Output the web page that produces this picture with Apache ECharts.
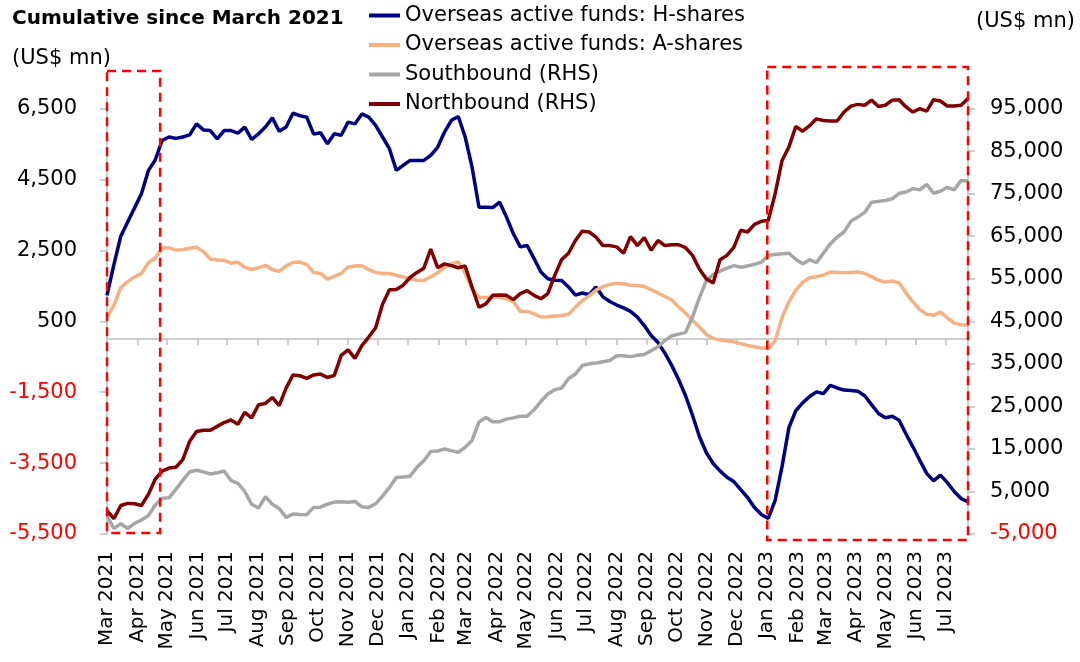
<!DOCTYPE html>
<html><head><meta charset="utf-8">
<script src="https://cdn.jsdelivr.net/npm/echarts@6/dist/echarts.min.js"></script>
<style>html,body{margin:0;padding:0;background:#fff}#c{width:1080px;height:662px}</style>
</head><body><div id="c"></div>
<script>
// ---- data (weekly, cumulative since March 2021) ----
const startDate = [2021, 2, 1]; // first weekly observation (Mon 1 Mar 2021)
const seriesNames = ['Overseas active funds: H-shares', 'Overseas active funds: A-shares', 'Southbound (RHS)', 'Northbound (RHS)'];
const hShares = [
 1230,2100,2900,3300,3700,4100,4750,5050,5600,5700,
 5660,5700,5760,6070,5900,5880,5650,5880,5880,5810,
 5980,5630,5790,5980,6240,5860,5980,6370,6300,6260,
 5780,5820,5510,5790,5750,6120,6070,6350,6260,6030,
 5700,5370,4760,4900,5040,5040,5040,5180,5410,5840,
 6170,6280,5700,4850,3720,3720,3710,3860,3440,2970,
 2600,2640,2270,1890,1700,1660,1650,1470,1240,1300,
 1250,1470,1190,1060,960,880,780,620,380,100,
 -100,-400,-750,-1150,-1600,-2150,-2750,-3200,-3510,-3720,
 -3900,-4020,-4250,-4470,-4750,-4950,-5060,-4550,-3600,-2500,
 -2020,-1800,-1620,-1490,-1540,-1310,-1380,-1440,-1450,-1470,
 -1600,-1850,-2100,-2220,-2180,-2290,-2680,-3040,-3420,-3790,
 -4000,-3840,-4050,-4300,-4500,-4590];
const aShares = [
 620,950,1450,1620,1750,1850,2150,2280,2570,2570,
 2510,2520,2560,2590,2460,2260,2230,2220,2140,2170,
 2020,1960,2010,2080,1960,1910,2060,2160,2170,2100,
 1880,1850,1690,1770,1850,2030,2060,2070,1960,1880,
 1850,1850,1800,1750,1700,1660,1650,1760,1870,2020,
 2120,2180,1850,1420,1180,1170,1190,1170,1140,1050,
 780,780,710,620,630,650,660,700,900,1080,
 1220,1380,1480,1540,1570,1560,1520,1510,1480,1390,
 1300,1200,1100,900,730,530,340,130,20,-30,
 -50,-80,-130,-180,-220,-250,-270,-50,600,1050,
 1380,1600,1730,1760,1800,1890,1880,1870,1880,1890,
 1850,1760,1660,1610,1640,1580,1300,1050,830,700,
 670,760,600,450,400,390];
const southbound = [
 -700,-3700,-2600,-3700,-2500,-1700,-700,1800,3400,3500,
 5500,7600,9600,10000,9600,9100,9400,9800,7600,6900,
 5000,2000,1100,3800,2000,1000,-1100,-300,-400,-450,
 1250,1300,2000,2500,2600,2450,2650,1400,1250,2100,
 3900,5900,8300,8400,8600,10700,12200,14400,14500,15000,
 14600,14200,15400,17000,21300,22400,21400,21400,22000,22300,
 22700,22700,24200,26200,27900,28900,29300,31500,32600,34600,
 35000,35200,35500,35800,36900,36900,36700,37000,37200,38100,
 39000,40500,41600,42000,42400,46000,50500,54500,56000,56800,
 57500,58100,57700,58000,58400,58900,60500,60700,60900,61000,
 59600,58500,59500,58800,61000,63200,64800,66000,68500,69500,
 70600,73000,73200,73400,73800,75100,75400,76200,75900,77200,
 75100,75600,76500,75900,78100,78000];
const northbound = [
 500,-1400,1700,2200,2100,1700,4300,7900,9800,10500,
 10700,12500,16800,19100,19400,19400,20300,21200,21800,20800,
 23600,22300,25400,25700,27100,25200,29300,32400,32200,31600,
 32400,32600,31800,32300,37000,38300,36300,39300,41300,43500,
 49000,52400,52500,53500,55300,56500,57500,62000,57600,58500,
 58100,57600,58000,53000,48300,49100,51100,51200,51100,50100,
 51500,52200,51100,50300,51500,55800,59500,61000,64000,66200,
 66000,64800,62800,62800,62500,61000,64900,62800,64700,61700,
 64000,62800,63000,63000,62300,60500,57300,55000,54000,59500,
 60500,62400,66400,66000,67800,68500,68700,75000,82800,86000,
 90800,89700,91000,92600,92200,92100,92100,94200,95600,96000,
 95800,97000,95500,95800,97000,97100,95400,94200,95000,94400,
 97100,96800,95600,95600,95800,97400];
const leftTicks = [-5500,-3500,-1500,500,2500,4500,6500];
const rightTicks = [-5000,5000,15000,25000,35000,45000,55000,65000,75000,85000,95000];
const monthTicks = [
 '2021-03-01','2021-04-01','2021-05-01','2021-06-01','2021-07-01','2021-08-01','2021-09-01','2021-10-01','2021-11-01','2021-12-01',
 '2022-01-01','2022-02-01','2022-03-01','2022-04-01','2022-05-01','2022-06-01','2022-07-01','2022-08-01','2022-09-01','2022-10-01','2022-11-01','2022-12-01',
 '2023-01-01','2023-02-01','2023-03-01','2023-04-01','2023-05-01','2023-06-01','2023-07-01'];
const monthNames = ['Jan','Feb','Mar','Apr','May','Jun','Jul','Aug','Sep','Oct','Nov','Dec'];
const highlightPeriods = [['2021-03-01','2021-04-24'], ['2023-01-01','2023-07-24']];

// ---- build ----
const FONT = 'DejaVu Sans';
const ts = s => { const p = s.split('-').map(Number); return new Date(p[0], p[1] - 1, p[2]).getTime(); };
const dates = hShares.map((_, i) => new Date(startDate[0], startDate[1], startDate[2] + 7 * i).getTime());
const pair = arr => arr.map((v, i) => [dates[i], v]);
const monthTs = monthTicks.map(ts);
const axisGray = '#BFBFBF';
const fmtNum = v => Number(v).toLocaleString('en-US');
const fmtMonth = v => { const d = new Date(v); return monthNames[d.getMonth()] + ' ' + d.getFullYear(); };
const colors = ['#000080', '#F4B183', '#A6A6A6', '#800000'];

const chart = echarts.init(document.getElementById('c'), null, {renderer: 'canvas'});
const option = {
  animation: false,
  textStyle: {fontFamily: FONT},
  color: colors,
  grid: {left: 107, right: 112, top: 98, bottom: 128},
  legend: {
    orient: 'vertical', left: 364, top: 0, icon: 'rect', itemWidth: 31, itemHeight: 4, itemGap: 8.5,
    textStyle: {fontSize: 21, color: '#000', fontFamily: FONT, lineHeight: 21},
    data: seriesNames
  },
  xAxis: [
    {
      type: 'value', min: dates[0], max: dates[dates.length - 1], position: 'bottom', scale: true,
      axisLine: {show: false, onZero: false}, axisTick: {show: false}, splitLine: {show: false},
      axisLabel: {customValues: monthTs, rotate: 90, margin: 17, fontSize: 20, color: '#000', fontFamily: FONT, formatter: fmtMonth}
    },
    {
      type: 'value', min: dates[0], max: dates[dates.length - 1], position: 'top', scale: true,
      axisLine: {show: true, onZero: true, onZeroAxisIndex: 0, lineStyle: {color: axisGray, width: 1.5}},
      axisTick: {show: true, inside: true, length: 6, customValues: monthTs, lineStyle: {color: axisGray, width: 1.5}},
      axisLabel: {show: false}, splitLine: {show: false}
    }
  ],
  yAxis: [
    {
      type: 'value', min: -5500, max: 6800, position: 'left',
      axisLine: {show: true, onZero: false, lineStyle: {color: axisGray, width: 1.5}},
      axisTick: {show: true, length: 7, customValues: leftTicks, lineStyle: {color: axisGray, width: 1.5}},
      axisLabel: {customValues: leftTicks, margin: 30, fontSize: 21, fontFamily: FONT,
        color: v => (v < 0 ? '#FF0000' : '#000000'), formatter: fmtNum},
      splitLine: {show: false}
    },
    {
      type: 'value', min: -5000, max: 97500, position: 'right',
      axisLine: {show: true, onZero: false, lineStyle: {color: axisGray, width: 1.5}},
      axisTick: {show: true, length: 7, customValues: rightTicks, lineStyle: {color: axisGray, width: 1.5}},
      axisLabel: {customValues: rightTicks, margin: 22, fontSize: 21, fontFamily: FONT,
        color: v => (v < 0 ? '#FF0000' : '#000000'), formatter: fmtNum},
      splitLine: {show: false}
    }
  ],
  series: [
    {name: seriesNames[0], type: 'line', xAxisIndex: 0, yAxisIndex: 0, data: pair(hShares)},
    {name: seriesNames[1], type: 'line', xAxisIndex: 0, yAxisIndex: 0, data: pair(aShares)},
    {name: seriesNames[2], type: 'line', xAxisIndex: 0, yAxisIndex: 1, data: pair(southbound)},
    {name: seriesNames[3], type: 'line', xAxisIndex: 0, yAxisIndex: 1, data: pair(northbound)}
  ].map((s, i) => Object.assign(s, {symbol: 'none', showSymbol: false, lineStyle: {width: 3.5, color: colors[i]}, itemStyle: {color: colors[i]}})),
  graphic: [
    {type: 'text', x: 12, y: 19, style: {text: 'Cumulative since March 2021', font: 'bold 20px "' + FONT + '"', fill: '#000', verticalAlign: 'middle'}},
    {type: 'text', x: 12, y: 59, style: {text: '(US$ mn)', font: '21px "' + FONT + '"', fill: '#000', verticalAlign: 'middle'}},
    {type: 'text', x: 976, y: 22, style: {text: '(US$ mn)', font: '21px "' + FONT + '"', fill: '#000', verticalAlign: 'middle'}}
  ]
};
chart.setOption(option);

// dashed highlight boxes positioned from the date axis
const boxY = [[71, 533], [67, 540]];
const boxes = highlightPeriods.map((p, i) => {
  const xa = chart.convertToPixel({xAxisIndex: 0}, ts(p[0]));
  const xb = chart.convertToPixel({xAxisIndex: 0}, ts(p[1]));
  return {type: 'rect', z: 100, silent: true,
    shape: {x: xa, y: boxY[i][0], width: xb - xa, height: boxY[i][1] - boxY[i][0]},
    style: {fill: 'none', stroke: '#FF0000', lineWidth: 2.5, lineDash: [9, 6]}};
});
chart.setOption({graphic: option.graphic.concat(boxes)});
</script>
</body></html>
